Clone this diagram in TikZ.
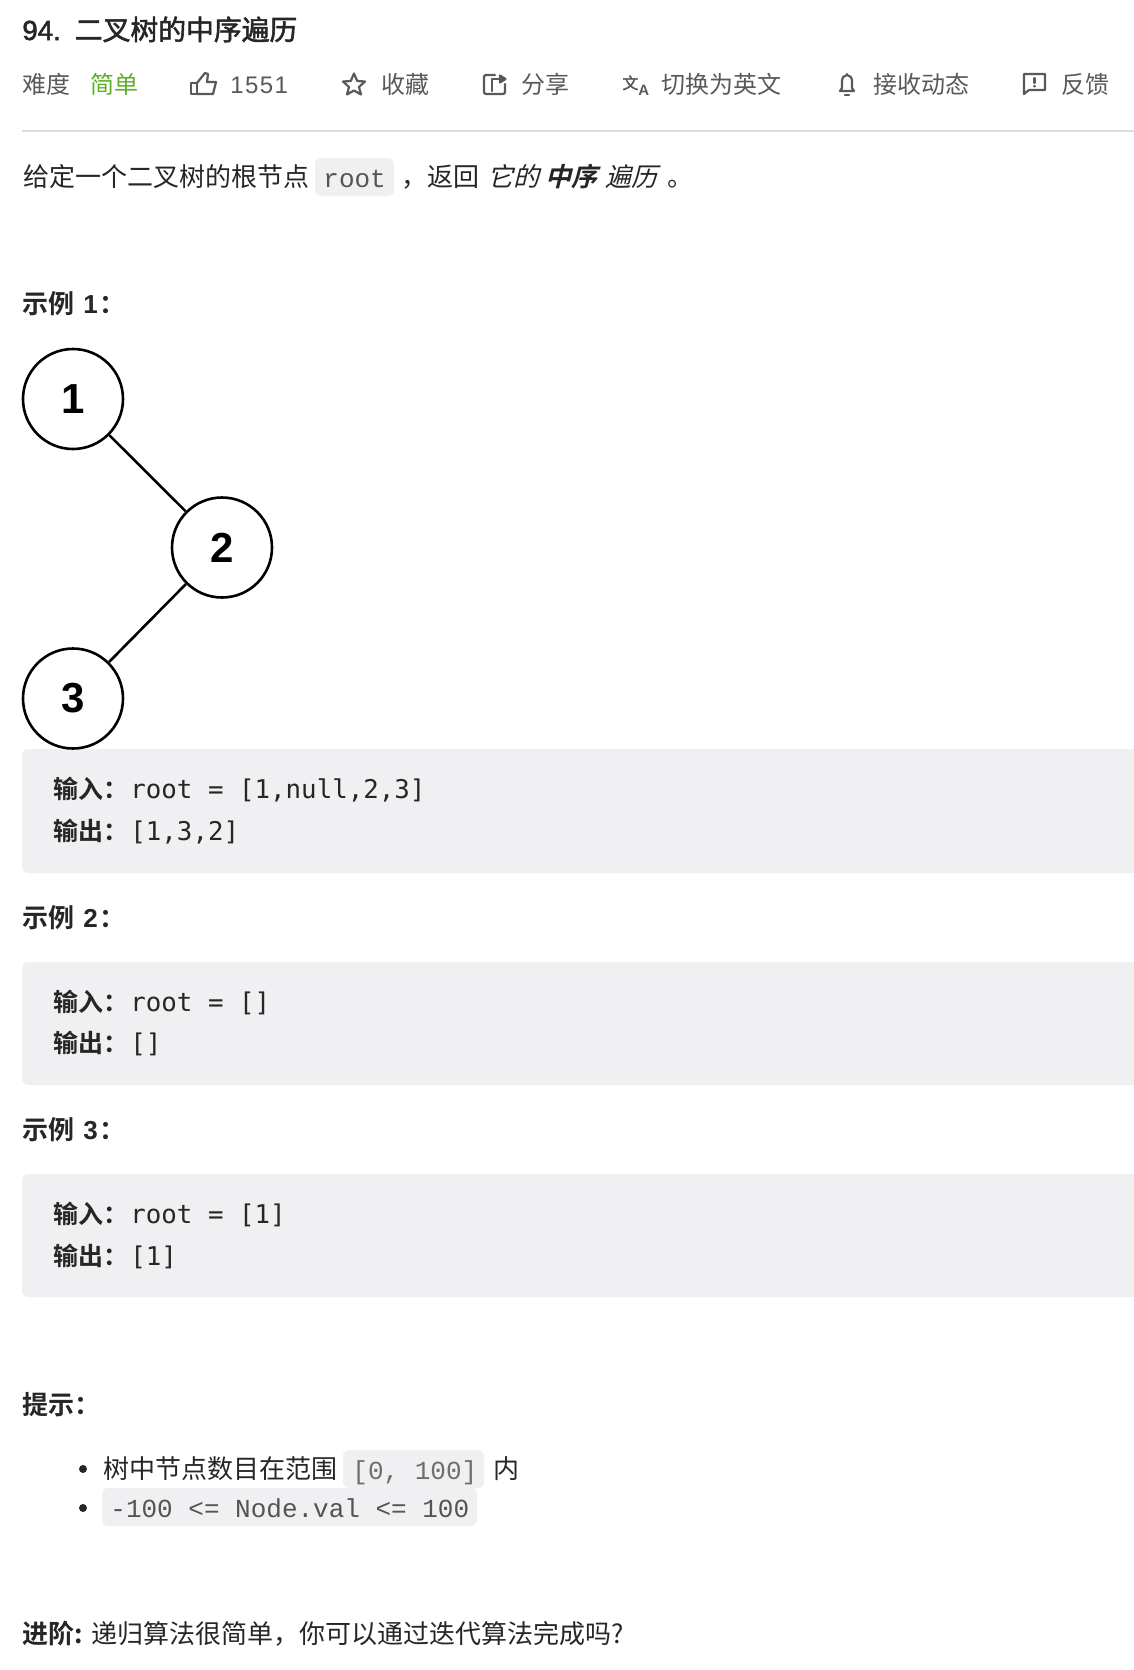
\documentclass[tikz,border=0pt]{standalone}
\usepackage{fontspec}
\setmainfont{Noto Sans CJK SC}[BoldFont={* Bold}]
\newfontfamily\latinfont{Liberation Sans}
\newfontfamily\likefont{Liberation Sans}[LetterSpace=6]
\newfontfamily\latinmid{Liberation Sans}[FakeBold=2]
\newfontfamily\codefont{Liberation Mono}
\newfontfamily\blockfont{DejaVu Sans Mono}
\newfontfamily\slantfont{Noto Sans CJK SC}[FakeSlant=0.25]
\newfontfamily\slantbold{Noto Sans CJK SC Bold}[FakeSlant=0.25]
\newfontfamily\midfont{Noto Sans CJK SC}[FakeBold=2]
\definecolor{ink}{RGB}{38,38,38}
\definecolor{muted}{RGB}{89,89,89}
\definecolor{codegray}{RGB}{240,240,242}
\definecolor{codeink}{RGB}{84,84,84}
\definecolor{easy}{RGB}{92,176,36}
\definecolor{rule}{RGB}{222,222,222}
\tikzset{
  txt/.style={anchor=base west,inner sep=0pt,text=ink,font=\fontsize{13}{13}\selectfont},
  bar/.style={txt,text=muted,font=\fontsize{12}{12}\selectfont},
  head/.style={txt,font=\fontsize{13}{13}\selectfont\bfseries},
  inl/.style={txt,text=codeink,font=\fontsize{13}{13}\selectfont\codefont},
  blk/.style={txt,font=\fontsize{12.9}{12.9}\selectfont\blockfont},
  tag/.style={txt,font=\fontsize{12.5}{12.5}\selectfont\bfseries},
  treenode/.style={circle,draw=black,line width=1.3pt,minimum size=50pt,inner sep=0pt,fill=white,
    font=\fontsize{21}{21}\selectfont\latinfont\bfseries},
  icon/.style={draw=muted,line width=1.1pt,line join=round,line cap=round},
  chip/.style={fill=codegray,rounded corners=3pt}
}
\begin{document}
\begin{tikzpicture}[x=0.5pt,y=-0.5pt]
  \useasboundingbox (0,0) rectangle (1134,1670);
  %title
  \node[txt,font=\fontsize{13.8}{13.8}\selectfont\latinmid] (titlenum) at (22,40){94.};
  \node[txt,font=\fontsize{13.9}{13.9}\selectfont\midfont] (title) at (74.5,40){二叉树的中序遍历};
  %toolbar
  \node[bar] (level) at (22,93){难度};
  \node[bar,text=easy] (easy) at (90,93){简单};
  \node[bar,font=\fontsize{12}{12}\selectfont\likefont] (likes) at (230,93){1551};
  \node[bar] (fav) at (381,93){收藏};
  \node[bar] (share) at (521,93){分享};
  \node[bar] (lang) at (661,93){切换为英文};
  \node[bar] (sub) at (873,93){接收动态};
  \node[bar] (back) at (1061,93){反馈};
  %toolbar icons
  \draw[icon] (191,83)--(197,83)--(197,94)--(191,94)--cycle;
  \draw[icon] (197,83)--(205,73)--(208,74)--(207,82)--(216,82)--(213,94)--(197,94);
  \draw[icon] (354,73.5)--(357.2,81)--(365,81.5)--(359,87)--(361,94.5)--(354,90.5)--(347,94.5)--(349,87)--(343,81.5)--(350.8,81)--cycle;
  \draw[icon,rounded corners=1pt] (495,75)--(484,75)--(484,94)--(505,94)--(505,84);
  \draw[icon] (492,91)--(492,79)--(500,79);
  \draw[icon,fill=muted] (500,75.5)--(505.5,79)--(500,82.5)--cycle;
  \node[bar,font=\fontsize{8}{8}\selectfont\midfont] (langa) at (622,89){文};
  \node[bar,font=\fontsize{7.5}{7.5}\selectfont\latinfont\bfseries] (langb) at (638,95){A};
  \draw[icon] (840,91)--(842,88)--(842,81) arc[start angle=180,end angle=0,x radius=5,y radius=-6]--(852,88)--(854,91)--cycle;
  \draw[icon] (847,74)--(847,75);
  \draw[icon] (845,95)--(849,95);
  \draw[icon] (1024,94)--(1024,74)--(1045,74)--(1045,90)--(1029,90)--cycle;
  \draw[icon] (1034.5,78)--(1034.5,83);
  \draw[icon] (1034.5,86)--(1034.5,86.5);
  \draw[rule,line width=1pt] (22,131)--(1134,131);
  %question
  \node[txt] (ask) at (23,186){给定一个二叉树的根节点};
  \fill[chip] (315,158) rectangle (394,196);
  \node[inl] (askcode) at (323,187){root};
  \node[txt] (comma) at (401,186){，};
  \node[txt] (ret) at (427,186){返回};
  \node[txt,font=\fontsize{13}{13}\selectfont\slantfont] (it) at (487,186){它的};
  \node[txt,font=\fontsize{13}{13}\selectfont\slantbold] (inorder) at (545,186){中序};
  \node[txt,font=\fontsize{13}{13}\selectfont\slantfont] (walk) at (605,186){遍历};
  \node[txt] (stop) at (667,186){。};
  %example 1
  \node[head] (ex1) at (22,313){示例\hspace{4.5pt}{\latinfont 1}\hspace{1pt}：};
  \fill[chip] (22,749) rectangle (1150,873);
  \node[treenode] (n1) at (73,399){\raisebox{-0.8pt}{1}};
  \node[treenode] (n2) at (222,547.5){\raisebox{-0.5pt}{2}};
  \node[treenode] (n3) at (73,698.5){\raisebox{-0.3pt}{3}};
  \draw[line width=1.3pt] (n1)--(n2);
  \draw[line width=1.3pt] (n2)--(n3);
  \node[tag] (in1) at (53,798){输入：};
  \node[blk] (in1v) at (130,798){root = [1,null,2,3]};
  \node[tag] (out1) at (53,840){输出：};
  \node[blk] (out1v) at (130,840){[1,3,2]};
  %example 2
  \node[head] (ex2) at (22,927){示例\hspace{4.5pt}{\latinfont 2}\hspace{1pt}：};
  \fill[chip] (22,962) rectangle (1150,1085);
  \node[tag] (in2) at (53,1011){输入：};
  \node[blk] (in2v) at (130,1011){root = []};
  \node[tag] (out2) at (53,1052){输出：};
  \node[blk] (out2v) at (130,1052){[]};
  %example 3
  \node[head] (ex3) at (22,1139){示例\hspace{4.5pt}{\latinfont 3}\hspace{1pt}：};
  \fill[chip] (22,1174) rectangle (1150,1297);
  \node[tag] (in3) at (53,1223){输入：};
  \node[blk] (in3v) at (130,1223){root = [1]};
  \node[tag] (out3) at (53,1265){输出：};
  \node[blk] (out3v) at (130,1265){[1]};
  %hints
  \node[head] (hint) at (22,1414){提示：};
  \fill[ink] (83,1469) circle (4);
  \fill[ink] (83,1508) circle (4);
  \node[txt] (hint1) at (103,1478){树中节点数目在范围};
  \fill[chip] (343,1450) rectangle (484,1488);
  \node[inl,text=codeink!85] (hint1v) at (352,1479){[0, 100]};
  \node[txt] (hint1e) at (493,1478){内};
  \fill[chip] (102,1488) rectangle (477,1526);
  \node[inl] (hint2v) at (110,1517){-100 <= Node.val <= 100};
  %follow up
  \node[head] (more) at (22,1643){进阶:};
  \node[txt] (moret) at (91,1643){递归算法很简单，你可以通过迭代算法完成吗?};
\end{tikzpicture}
\end{document}
